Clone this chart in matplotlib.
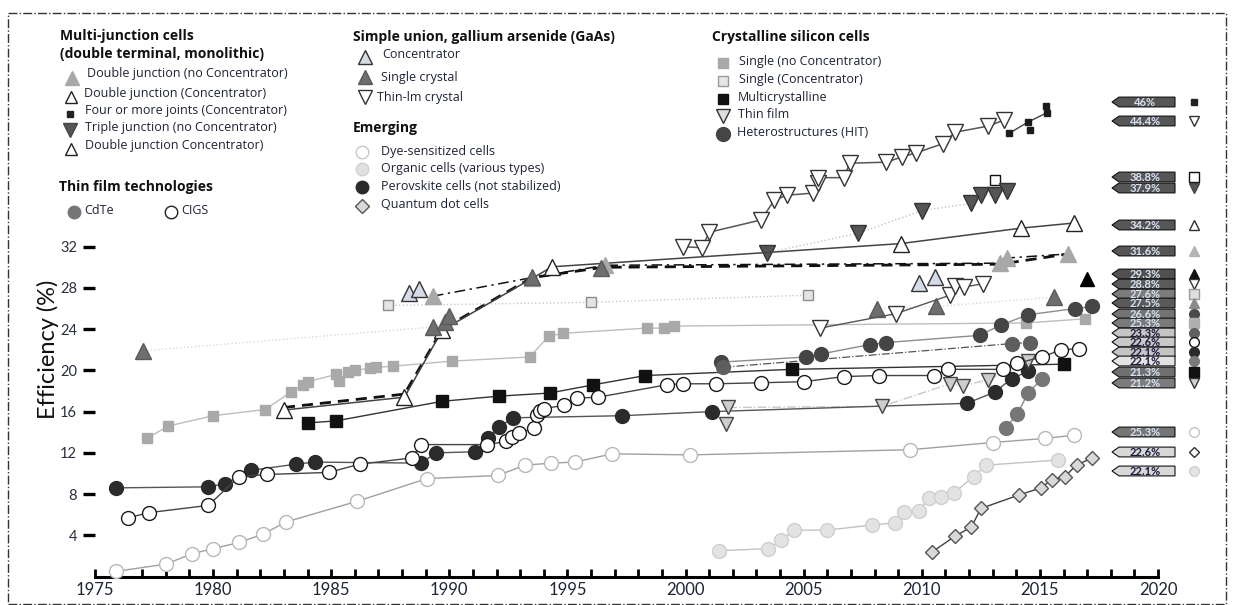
import matplotlib

matplotlib.use("Agg")
import matplotlib.pyplot as plt
from matplotlib.lines import Line2D
from matplotlib.patches import Polygon, Rectangle

plt.rcParams["font.family"] = ["Lato", "DejaVu Sans"]

W, H = 1233, 605

# --- record efficiencies (year, %) ---
si_single_x = [1977.2, 1978.1, 1980.0, 1982.2, 1983.3, 1983.8, 1984.0, 1985.2, 1985.35, 1985.7, 1986.0,
               1986.65, 1986.9, 1987.6, 1990.1, 1993.4, 1994.2, 1994.8, 1998.35, 1999.1, 1999.5, 2014.4, 2016.9]
si_single_y = [13.4, 14.6, 15.6, 16.2, 17.9, 18.6, 18.9, 19.6, 19.0, 19.8, 20.0,
               20.2, 20.3, 20.4, 20.9, 21.3, 23.3, 23.6, 24.1, 24.1, 24.3, 24.6, 25.0]

si_conc_x = [1987.4, 1996.0, 2005.2]
si_conc_y = [26.3, 26.6, 27.3]

multi_x = [1984.0, 1985.2, 1989.7, 1992.1, 1994.25, 1996.1, 1998.3, 2004.5, 2016.0]
multi_y = [14.9, 15.1, 17.0, 17.5, 17.8, 18.6, 19.5, 20.1, 20.6]

si_tf_x = [2001.7, 2001.8, 2008.3, 2011.2, 2011.75, 2012.8, 2014.5]
si_tf_y = [14.8, 16.4, 16.5, 18.7, 18.5, 19.1, 20.9]

hit_x = [2001.5, 2005.1, 2005.75, 2007.8, 2008.5, 2012.45, 2013.35, 2014.5, 2016.5, 2017.2]
hit_y = [20.8, 21.3, 21.6, 22.5, 22.7, 23.4, 24.4, 25.4, 26.0, 26.2]

hit2_x = [2001.6, 2013.8, 2014.6]
hit2_y = [20.3, 22.6, 22.7]

top_tf_x = [1999.9, 2000.7, 2001.0, 2003.2, 2003.75, 2004.3, 2005.4, 2005.6, 2005.6, 2006.7, 2006.95,
            2008.5, 2009.15, 2009.75, 2010.9, 2011.4, 2012.8, 2013.5]
top_tf_y = [32.0, 31.9, 33.4, 34.6, 36.5, 37.0, 37.2, 38.2, 38.7, 38.7, 40.1,
            40.2, 40.7, 41.1, 42.0, 43.1, 43.7, 44.3]

four_x = [2013.7, 2014.5, 2015.3, 2015.25]
four_y = [43.0, 44.1, 45.0, 45.7]
four_extra_x = [2014.6]
four_extra_y = [43.3]

triple_x = [2003.45, 2007.3, 2010.0, 2012.1, 2012.5, 2013.1, 2013.6]
triple_y = [31.4, 33.3, 35.5, 36.2, 37.0, 37.0, 37.4]

conc_sq_x = [2013.1]
conc_sq_y = [38.5]

dj_conc_x = [1983.0, 1988.1, 1989.7, 1994.35, 2009.1, 2014.2, 2016.45]
dj_conc_y = [16.15, 17.4, 23.9, 30.05, 32.3, 33.8, 34.3]

dashed_x = [1983.0, 1988.1, 1989.7, 1993.5, 1996.5, 2013.3, 2016.2]
dashed_y = [16.4, 17.7, 24.0, 29.0, 30.0, 30.3, 31.3]

dj_x = [1989.3, 1993.5, 1996.6, 2013.3, 2013.6, 2016.2]
dj_y = [27.2, 29.0, 30.2, 30.4, 30.9, 31.3]

gaas_sc_x = [1977.05, 1989.3, 1989.8, 1990.0, 1993.5, 1996.4, 2008.1, 2010.6, 2015.6]
gaas_sc_y = [21.9, 24.2, 24.7, 25.3, 29.1, 29.9, 26.0, 26.2, 27.1]

gaas_conc_x = [1988.3, 1988.7, 2009.9, 2010.55]
gaas_conc_y = [27.5, 27.9, 28.5, 29.1]

black_tri_x = [2017.0]
black_tri_y = [28.9]

gaas_tf_x = [2005.7, 2008.9, 2011.2, 2011.4, 2011.8, 2012.6]
gaas_tf_y = [24.1, 25.5, 27.3, 28.2, 28.1, 28.4]

cdte_x = [1975.9, 1979.8, 1980.5, 1981.6, 1983.5, 1984.3, 1988.8, 1989.45, 1991.1, 1991.65, 1992.1,
          1992.7, 1997.3, 2001.1, 2011.9, 2013.1, 2013.8, 2014.5]
cdte_y = [8.6, 8.7, 9.0, 10.3, 10.9, 11.1, 11.0, 12.0, 12.1, 13.4, 14.5,
          15.4, 15.6, 16.0, 16.8, 17.9, 19.2, 19.9]

cigs_x = [1976.4, 1977.3, 1979.8, 1981.1, 1982.3, 1984.9, 1986.2, 1988.4, 1988.8, 1991.6, 1992.4,
          1992.65, 1992.95, 1993.6, 1993.7, 1993.85, 1994.0, 1994.85, 1995.4, 1996.3, 1999.2, 1999.9,
          2001.3, 2003.2, 2005.0, 2006.7, 2008.2, 2010.5, 2011.1, 2013.45, 2014.05, 2015.1, 2015.9, 2016.65]
cigs_y = [5.7, 6.2, 6.9, 9.7, 9.9, 10.1, 10.9, 11.5, 12.8, 12.8, 13.1,
          13.5, 13.9, 14.4, 15.7, 16.1, 16.3, 16.6, 17.3, 17.4, 18.6, 18.7,
          18.7, 18.8, 18.9, 19.4, 19.5, 19.5, 20.1, 20.1, 20.7, 21.3, 22.0, 22.1]

perov_x = [2013.55, 2014.05, 2014.5, 2015.1]
perov_y = [14.4, 15.8, 17.8, 19.2]

dye_x = [1975.9, 1978.0, 1979.1, 1980.0, 1981.1, 1982.1, 1983.1, 1986.1, 1989.05, 1992.05,
         1993.2, 1994.3, 1995.3, 1996.9, 2000.2, 2009.5, 2013.0, 2015.2, 2016.45]
dye_y = [0.5, 1.2, 2.2, 2.7, 3.3, 4.1, 5.3, 7.3, 9.5, 9.8,
         10.8, 11.0, 11.1, 11.9, 11.8, 12.3, 13.0, 13.4, 13.7]

organic_x = [2001.4, 2003.5, 2004.05, 2004.6, 2006.0, 2007.9, 2008.85, 2009.25, 2009.9, 2010.3,
             2010.8, 2011.35, 2012.2, 2012.7, 2015.75]
organic_y = [2.5, 2.7, 3.5, 4.5, 4.5, 5.0, 5.2, 6.3, 6.4, 7.6,
             7.7, 8.1, 9.7, 10.8, 11.3]

qd_x = [2010.45, 2011.4, 2012.1, 2012.5, 2014.1, 2015.05, 2015.5, 2016.05, 2016.55, 2017.2]
qd_y = [2.4, 3.9, 4.8, 6.6, 7.9, 8.6, 9.4, 9.7, 10.8, 11.5]

# right-hand record tags
tag_text = ["46%", "44.4%", "38.8%", "37.9%", "34.2%", "31.6%", "29.3%", "28.8%", "27.6%", "27.5%",
            "26.6%", "25.3%", "23.3%", "22.6%", "22.1%", "22.1%", "21.3%", "21.2%",
            "25.3%", "22.6%", "22.1%"]
tag_py = [102, 121, 177, 188, 225, 251, 274, 284, 294, 303,
          314, 323, 333, 342, 352, 361, 372, 383,
          432, 452, 471]
tag_face = ["#565656", "#565656", "#565656", "#565656", "#565656", "#565656", "#505050", "#5a5a5a",
            "#7c7c7c", "#5a5a5a", "#747474", "#7a7a7a", "#c4c4c4", "#c8c8c8", "#c4c4c4", "#e2e2e2",
            "#707070", "#7c7c7c", "#757575", "#d8d8d8", "#d8d8d8"]
tag_mark = [("s", 5, "#222222", "#222222"), ("v", 7, "white", "#333333"), ("s", 7, "white", "#111111"),
            ("v", 7, "#555555", "#444444"), ("^", 7, "white", "#333333"), ("^", 7, "#b4b4b4", "#b4b4b4"),
            ("^", 7, "#111111", "#111111"), ("v", 7, "white", "#333333"), ("s", 7, "#dedede", "#9a9a9a"),
            ("^", 7, "#8a8a8a", "#8a8a8a"), ("o", 7, "#4a4a4a", "#4a4a4a"), ("s", 7, "#b0b0b0", "#b0b0b0"),
            ("o", 7, "#606060", "#606060"), ("o", 7, "white", "#111111"), ("o", 7, "#2a2a2a", "#2a2a2a"),
            ("o", 7, "#7a7a7a", "#7a7a7a"), ("s", 7, "#111111", "#111111"), ("v", 7, "#d0d0d0", "#333333"),
            ("o", 7, "white", "#c4c4c4"), ("D", 5, "white", "#333333"), ("o", 7, "#e4e4e4", "#d0d0d0")]

LEG_TXT = "#1d2233"
LEG_FONT = ["Open Sans", "DejaVu Sans"]


def fxy(x, y):
    return x / W, 1 - y / H


fig = plt.figure(figsize=(W / 100, H / 100), dpi=100)
ax = fig.add_axes([95 / W, 1 - 576.5 / H, (1158 - 95) / W, (576.5 - 81.8) / H])
ax.set_xlim(1975, 2020)
ax.set_ylim(0, 48)
for side in ("top", "right", "left"):
    ax.spines[side].set_visible(False)
ax.spines["bottom"].set_linewidth(2.2)
ax.set_xticks(range(1975, 2021, 5))
ax.set_xticks(range(1975, 2021), minor=True)
ax.tick_params(axis="x", which="both", direction="in", length=6, width=2, pad=4,
               labelsize=12, labelcolor="#1e2433")
ax.set_yticks(range(4, 33, 4))
ax.tick_params(axis="y", direction="out", length=9, width=2.4, pad=4,
               labelsize=10.5, labelcolor="#2a2f3d")
ax.patch.set_alpha(0)


def series(x, y, marker, ms, mfc, mec, color, ls="-", lw=1.0, mew=1.0, z=3):
    ax.plot(x, y, ls=ls, color=color, lw=lw, marker=marker, ms=ms, mfc=mfc, mec=mec,
            mew=mew, zorder=z, clip_on=False)


# faint connectors
ax.plot(gaas_sc_x[:4], gaas_sc_y[:4], ls=":", color="#d8d8d8", lw=1, zorder=1)
ax.plot(gaas_sc_x[6:], gaas_sc_y[6:], ls=":", color="#d8d8d8", lw=1, zorder=1)
ax.plot(triple_x, triple_y, ls=":", color="#c4c4c4", lw=1, zorder=1)
ax.plot(si_tf_x[1:], si_tf_y[1:], ls="-.", color="#c8c8c8", lw=1, zorder=1)
ax.plot(hit2_x, hit2_y, ls="-.", color="#555555", lw=0.9, zorder=1)
ax.plot(dj_x, dj_y, ls=(0, (7, 3, 1.5, 3)), color="#111111", lw=1.1, zorder=2)
ax.plot(dashed_x, dashed_y, ls=(0, (4, 2.5)), color="#111111", lw=2.0, zorder=2)

# emerging
series(dye_x, dye_y, "o", 10, "white", "#b8b8b8", "#a0a0a0")
series(organic_x, organic_y, "o", 10, "#e3e3e3", "#cfcfcf", "#c2c2c2")
series(qd_x, qd_y, "D", 7.5, "#d9d9d9", "#555555", "#404040")

# thin film
series(cdte_x, cdte_y, "o", 10, "#2b2b2b", "#2b2b2b", "#555555")
series(cigs_x, cigs_y, "o", 10, "white", "#1a1a1a", "#444444", z=4)
series(perov_x, perov_y, "o", 10, "#767676", "#767676", "#8a8a8a")

# crystalline silicon
series(si_single_x, si_single_y, "s", 7.5, "#a9a9a9", "#a9a9a9", "#bdbdbd")
series(si_conc_x, si_conc_y, "s", 7.5, "#e4e4e4", "#8c8c8c", "#c8c8c8", ls=":")
series(multi_x, multi_y, "s", 8, "#111111", "#111111", "#333333")
series(si_tf_x, si_tf_y, "v", 10, "#cdcdcd", "#444444", "none", ls="none")
series(hit_x, hit_y, "o", 10, "#454545", "#454545", "#8c8c8c")
series(hit2_x, hit2_y, "o", 10, "#5e5e5e", "#5e5e5e", "none", ls="none")
series(top_tf_x, top_tf_y, "v", 11.5, "white", "#333333", "#555555", lw=1.1)
series(conc_sq_x, conc_sq_y, "s", 7.5, "white", "#111111", "none", ls="none")

# multi-junction and GaAs
series(four_x, four_y, "s", 5, "#1c1c1c", "#1c1c1c", "#444444")
series(four_extra_x, four_extra_y, "s", 5, "#1c1c1c", "#1c1c1c", "none", ls="none")
series(triple_x, triple_y, "v", 11, "#555555", "#333333", "none", ls="none")
series(dj_conc_x, dj_conc_y, "^", 11.5, "white", "#222222", "#444444", lw=1.1)
series(dj_x, dj_y, "^", 11, "#a8a8a8", "#a8a8a8", "none", ls="none")
series(gaas_sc_x, gaas_sc_y, "^", 11, "#6e6e6e", "#5a5a5a", "none", ls="none")
series(gaas_conc_x, gaas_conc_y, "^", 11, "#d5dce8", "#333333", "none", ls="none")
series(black_tri_x, black_tri_y, "^", 10, "#000000", "#000000", "none", ls="none")
series(gaas_tf_x, gaas_tf_y, "v", 11.5, "white", "#333333", "#555555")

fig.text(*fxy(48, 349), "Efficiency (%)", rotation=90, ha="center", va="center",
         fontsize=17, color="#111111")

# record tags on the right
for txt, py, face, (mk, ms, mfc, mec) in zip(tag_text, tag_py, tag_face, tag_mark):
    hh = 4.9
    pts = [fxy(1112, py), fxy(1119, py - hh), fxy(1175, py - hh), fxy(1175, py + hh), fxy(1119, py + hh)]
    fig.add_artist(Polygon(pts, closed=True, transform=fig.transFigure, facecolor=face,
                           edgecolor="#111111", lw=0.8))
    light = face in ("#c4c4c4", "#c8c8c8", "#e2e2e2", "#d8d8d8")
    fig.text(*fxy(1145, py + 0.5), txt, ha="center", va="center", fontsize=8, fontweight="bold",
             color="#1a1a3a" if light else "#d6e2f2")
    fig.add_artist(Line2D([1194 / W], [1 - py / H], marker=mk, ms=ms, mfc=mfc, mec=mec, mew=1,
                          ls="none", transform=fig.transFigure))


def head(x, y, s):
    fig.text(*fxy(x, y), s, ha="left", va="center", fontsize=10, fontweight="bold",
             color="#111111", family=LEG_FONT)


def entry(mx, my, marker, ms, mfc, mec, tx, ty, s):
    fig.add_artist(Line2D([mx / W], [1 - my / H], marker=marker, ms=ms, mfc=mfc, mec=mec, mew=1,
                          ls="none", transform=fig.transFigure))
    fig.text(*fxy(tx, ty), s, ha="left", va="center", fontsize=9, color=LEG_TXT, family=LEG_FONT)


head(60, 36, "Multi-junction cells")
head(60, 54, "(double terminal, monolithic)")
entry(72, 78, "^", 10, "#a8a8a8", "#a8a8a8", 87, 74, "Double junction (no Concentrator)")
entry(71, 97, "^", 9, "white", "#222222", 84, 94, "Double junction (Concentrator)")
entry(70, 114, "s", 5, "#222222", "#222222", 85, 110, "Four or more joints (Concentrator)")
entry(70, 130, "v", 10, "#555555", "#444444", 85, 127, "Triple junction (no Concentrator)")
entry(71, 149, "^", 9, "white", "#222222", 85, 146, "Double junction Concentrator)")
head(59, 187, "Thin film technologies")
entry(74, 212, "o", 9, "#767676", "#767676", 84, 210, "CdTe")
entry(171, 212, "o", 9, "white", "#222222", 181, 211, "CIGS")

head(353, 37, "Simple union, gallium arsenide (GaAs)")
entry(365, 57, "^", 10, "#d5dce8", "#333333", 382, 55, "Concentrator")
entry(365, 77, "^", 10, "#6e6e6e", "#5a5a5a", 381, 77, "Single crystal")
entry(365, 97, "v", 10, "white", "#333333", 377, 97, "Thin-lm crystal")
head(353, 128, "Emerging")
entry(362, 152, "o", 9, "white", "#c8c8c8", 381, 151, "Dye-sensitized cells")
entry(362, 169, "o", 9, "#e0e0e0", "#d0d0d0", 381, 168, "Organic cells (various types)")
entry(362, 187, "o", 9, "#2a2a2a", "#2a2a2a", 381, 186, "Perovskite cells (not stabilized)")
entry(362, 206, "D", 7, "#d9d9d9", "#555555", 381, 205, "Quantum dot cells")

head(712, 37, "Crystalline silicon cells")
entry(723, 63, "s", 7, "#a9a9a9", "#a9a9a9", 739, 62, "Single (no Concentrator)")
entry(723, 81, "s", 7, "#e6e6e6", "#9a9a9a", 739, 80, "Single (Concentrator)")
entry(723, 99, "s", 7.5, "#111111", "#111111", 738, 97, "Multicrystalline")
entry(723, 116, "v", 10, "#dddddd", "#333333", 738, 114, "Thin film")
entry(723, 134, "o", 10, "#454545", "#454545", 737, 132, "Heterostructures (HIT)")

# dash-dot frame
x0, y0 = fxy(8, 604)
x1, y1 = fxy(1226, 13)
fig.add_artist(Rectangle((x0, y0), x1 - x0, y1 - y0, transform=fig.transFigure, fill=False,
                         ls="-.", lw=1, edgecolor="#333333"))

fig.savefig("out.png", dpi=100)
